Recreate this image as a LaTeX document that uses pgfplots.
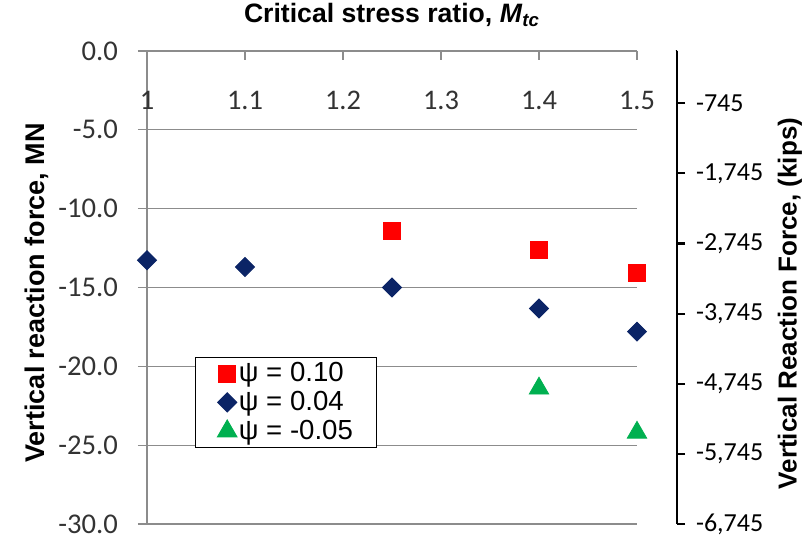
\documentclass[border=0pt]{standalone}
\usepackage{pgfplots}
\pgfplotsset{compat=1.18}
\usepackage{fontspec}
\setmainfont{Liberation Sans}
\newfontfamily\calibri{Carlito}
\definecolor{gridgray}{HTML}{8C8C8C}
\definecolor{mred}{HTML}{FF0000}
\definecolor{mnavy}{HTML}{0B2466}
\definecolor{mgreen}{HTML}{00B050}
\begin{document}
\begin{tikzpicture}
\useasboundingbox (-73.5pt,-5.5pt) rectangle (331pt,262pt);
\begin{axis}[
  scale only axis, width=245pt, height=236.5pt,
  xmin=1, xmax=1.5, ymin=-30, ymax=0,
  axis x line*=top, axis y line*=left,
  axis line style={gridgray, line width=0.6pt, -},
  xtick={1,1.1,1.2,1.3,1.4,1.5}, xticklabels={1,1.1,1.2,1.3,1.4,1.5},
  ytick={-30,-25,-20,-15,-10,-5,0},
  yticklabels={-30.0,-25.0,-20.0,-15.0,-10.0,-5.0,0.0},
  xtick align=inside, ytick align=outside,
  major tick length=4.5pt,
  tick style={gridgray, line width=0.6pt},
  ymajorgrids, grid style={gridgray, line width=0.6pt},
  xticklabel style={font=\calibri\fontsize{14.2}{16}\selectfont, anchor=center, yshift=-24.5pt, text=black!80},
  yticklabel style={font=\calibri\fontsize{14.3}{16}\selectfont, text=black!80, xshift=-6.5pt, inner ysep=0pt},
  every axis title shift=0pt,
  title={\textbf{Critical stress ratio, \textit{M}\textsubscript{\textit{tc}}}},
  title style={font=\fontsize{13.3}{15}\selectfont, at={(axis description cs:0.5,1)}, anchor=center, yshift=18pt},
  ylabel={\textbf{Vertical reaction force, MN}},
  ylabel style={font=\fontsize{13.5}{15}\selectfont, at={(axis description cs:0,0.5)}, anchor=center, yshift=55pt, xshift=-2.75pt},
  legend style={at={(axis cs:1.049,-19.4)}, anchor=north west, draw=black, line width=0.5pt, fill=white,
    font=\fontsize{13.8}{15}\selectfont, inner xsep=11pt, inner ysep=1.5pt, row sep=1.3pt,
    nodes={inner sep=1pt}},
  legend image code/.code={\draw[#1] plot coordinates {(0pt,0pt)};},
  legend cell align=left,
  clip=false,
]
\addplot[only marks, mark=square*, mark size=4.25pt, mark options={draw=mred, fill=mred}]
  coordinates {(1.25,-11.4) (1.4,-12.64) (1.5,-14.1)};
\addlegendentry{ψ = 0.10}
\addplot[only marks, mark=square*, mark size=3.36pt, mark options={draw=mnavy, fill=mnavy, rotate=45}]
  coordinates {(1,-13.27) (1.1,-13.7) (1.25,-15.0) (1.4,-16.33) (1.5,-17.8)};
\addlegendentry{ψ = 0.04}
\addplot[only marks, mark=triangle*, mark size=5.6pt, mark options={draw=mgreen, fill=mgreen}]
  coordinates {(1.4,-21.4) (1.5,-24.2)};
\addlegendentry{ψ = -0.05}
\end{axis}
\begin{axis}[
  scale only axis, width=265pt, height=236.5pt,
  xmin=0, xmax=1, ymin=-6745, ymax=0,
  hide x axis, axis y line*=right,
  axis line style={black, line width=1.1pt, -},
  ytick={-6745,-5745,-4745,-3745,-2745,-1745,-745},
  yticklabels={{-6,745},{-5,745},{-4,745},{-3,745},{-2,745},{-1,745},{-745}},
  ytick align=outside, major tick length=4pt,
  tick style={black, line width=1.1pt},
  yticklabel style={font=\calibri\fontsize{13}{14}\selectfont, anchor=west, xshift=2pt, inner ysep=0pt},
  ylabel={\textbf{Vertical Reaction Force, (kips)}},
  ylabel style={font=\fontsize{13}{15}\selectfont, at={(axis description cs:1,0.5)}, anchor=center, yshift=-56.5pt, xshift=-8pt},
]
\draw[black, line width=1.1pt] (rel axis cs:1,1) -- ++(-5.5pt,0);
\end{axis}
\end{tikzpicture}
\end{document}
